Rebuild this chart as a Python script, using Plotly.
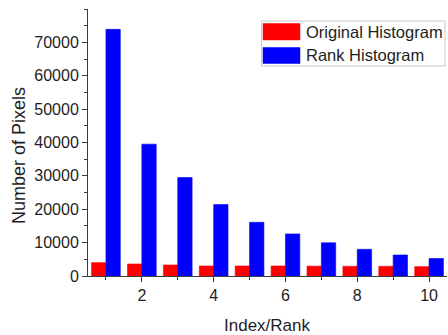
import plotly.graph_objects as go

# Histogram bins (index / rank) and pixel counts per bin
ranks = [1, 2, 3, 4, 5, 6, 7, 8, 9, 10]
original_hist = [4000, 3600, 3300, 3000, 3000, 3000, 2950, 2900, 2900, 2800]
rank_hist = [73900, 39500, 29500, 21400, 16100, 12600, 9950, 8000, 6300, 5250]

series_names = ["Original Histogram", "Rank Histogram"]
series_colors = ["#ff0000", "#0000ff"]
y_ticks = [0, 10000, 20000, 30000, 40000, 50000, 60000, 70000]
x_ticks = [2, 4, 6, 8, 10]

W, H = 448, 335
ML, MR, MT, MB = 88, 1, 9, 59
PW, PH = W - ML - MR, H - MT - MB

def px_x(x):
    return (x - ML) / PW

def px_y(y):
    return (H - MB - y) / PH

fig = go.Figure()
for name, color, vals in zip(series_names, series_colors, [original_hist, rank_hist]):
    fig.add_trace(go.Bar(
        x=ranks, y=vals, name=name,
        marker=dict(color=color, line=dict(color=color, width=0.6)),
        showlegend=False,
    ))

font = "Liberation Sans, Arial, sans-serif"
axis_col = "#3a3a3a"
text_col = "#1e1e1e"
fig.update_layout(
    width=W, height=H,
    margin=dict(l=ML, r=MR, t=MT, b=MB),
    paper_bgcolor="white", plot_bgcolor="white",
    barmode="group", bargap=0.2, bargroupgap=0.0,
    font=dict(family=font, size=16, color=text_col),
)
fig.update_xaxes(
    range=[0.5, 10.5], tickvals=x_ticks, ticks="outside", ticklen=5,
    tickcolor=axis_col, showline=True, linecolor=axis_col, linewidth=1,
    showgrid=False, zeroline=False, tickfont=dict(size=16),
    minor=dict(tickvals=[1, 3, 5, 7, 9], ticks="outside", ticklen=3, tickcolor=axis_col),
)
fig.update_yaxes(
    range=[0, 80000], tickvals=y_ticks, tickformat="d", ticks="outside", ticklen=5,
    tickcolor=axis_col, showline=True, linecolor=axis_col, linewidth=1,
    showgrid=False, zeroline=False, tickfont=dict(size=16),
    minor=dict(dtick=5000, ticks="outside", ticklen=3, tickcolor=axis_col),
)

# Axis titles
fig.add_annotation(text="Number of Pixels", xref="paper", yref="paper",
                   x=px_x(19), y=px_y(156), showarrow=False, textangle=-90,
                   font=dict(size=18, family=font, color=text_col),
                   xanchor="center", yanchor="middle")
fig.add_annotation(text="Index/Rank", xref="paper", yref="paper",
                   x=px_x(267), y=px_y(325), showarrow=False,
                   font=dict(size=17, family=font, color=text_col),
                   xanchor="center", yanchor="middle")

# Legend box with wide colour swatches
fig.add_shape(type="rect", xref="paper", yref="paper",
              x0=px_x(261.5), x1=px_x(445), y0=px_y(66), y1=px_y(21),
              line=dict(color="#c8c8c8", width=1), fillcolor="white", layer="above")
swatch_rows = [(23.5, 40), (47.5, 63.5)]
for (top, bot), name, color in zip(swatch_rows, series_names, series_colors):
    fig.add_shape(type="rect", xref="paper", yref="paper",
                  x0=px_x(263), x1=px_x(300), y0=px_y(bot), y1=px_y(top),
                  line=dict(color=color, width=0.5), fillcolor=color, layer="above")
    fig.add_annotation(text=name, xref="paper", yref="paper",
                       x=px_x(303.5), y=px_y((top + bot) / 2), showarrow=False,
                       xanchor="left", yanchor="middle",
                       font=dict(size=16.5, family=font, color=text_col))

fig.write_html("out.html")
